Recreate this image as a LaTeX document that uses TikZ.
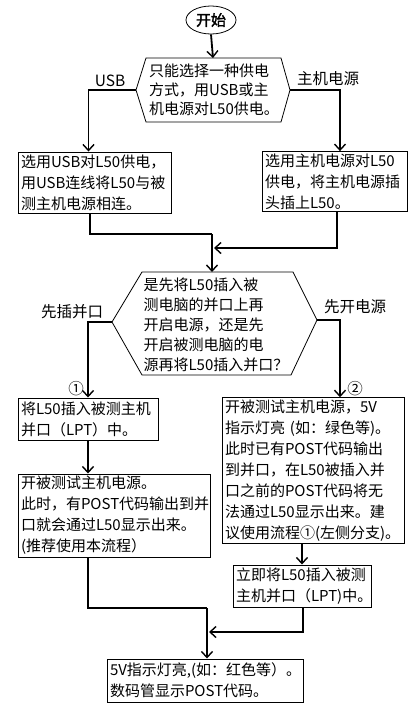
\documentclass[tikz,border=0pt]{standalone}
\usepackage{fontspec}
\setmainfont{Noto Sans CJK SC}
\newfontfamily\cjkbold[FakeBold=2]{Noto Sans CJK SC}
\usetikzlibrary{arrows.meta,shapes.geometric,calc}
\begin{document}
\begin{tikzpicture}[x=1pt,y=-1pt,
  txt/.style={font=\fontsize{15}{21}\selectfont},
  box/.style={draw,line width=1pt,txt,align=left,inner xsep=3pt,inner ysep=2pt,anchor=center},
  hexline/.style={line width=0.8pt},
  conn/.style={line width=1.8pt},
  arr/.style={conn,-{Straight Barb[length=6pt,width=11pt,line width=1.4pt]}},
  lab/.style={font=\fontsize{15.5}{17}\selectfont,inner sep=0pt}]
\useasboundingbox (0,0) rectangle (420,720);

% start
\node[ellipse,draw,line width=0.8pt,minimum width=50pt,minimum height=28pt,inner sep=0pt,font=\cjkbold\fontsize{15}{16}\selectfont] (start) at (211,20) {开始};

% hexagon 1
\coordinate (h1l) at (136,90);
\coordinate (h1r) at (290,90);
\coordinate (h1t) at (213,58);
\draw[hexline] (h1l) -- (146,58) -- (281,58) -- (h1r) -- (281,122) -- (146,122) -- cycle;
\node[txt,align=left,inner sep=0pt,font=\fontsize{15}{19}\selectfont] (h1) at (214,90) {只能选择一种供电\\方式，用USB或主\\机电源对L50供电。};

\draw[arr] (start.south) -- (h1t);

% boxes row 1
\node[box,minimum width=153pt,minimum height=61pt,text width=147pt] (b1) at (94.5,182.5) {选用USB对L50供电，\\用USB连线将L50与被\\测主机电源相连。};
\node[box,minimum width=145pt,minimum height=59pt,text width=139pt] (b2) at (334.5,181.5) {选用主机电源对L50\\供电，将主机电源插\\头插上L50。};

\node[lab] (lusb) at (110,81) {USB};
\node[lab] (lzj) at (328,79) {主机电源};
\draw[arr] (h1l) -| ([xshift=-6pt]b1.north);
\draw[arr] (h1r) -| ([xshift=5.5pt]b2.north);

% hexagon 2
\coordinate (h2l) at (112,322);
\coordinate (h2r) at (317,320);
\coordinate (h2t) at (212,272);
\draw[hexline] (h2l) -- (142,272) -- (293,272) -- (h2r) -- (291,375) -- (142,375) -- cycle;
\node[txt,align=left,inner sep=0pt,font=\fontsize{15}{20}\selectfont] (h2) at (216,325) {是先将L50插入被\\测电脑的并口上再\\开启电源，还是先\\开启被测电脑的电\\源再将L50插入并口？};

\coordinate (m1) at (212,234);
\coordinate (m2) at (214,248);
\draw[conn] ([xshift=-4.5pt]b1.south) |- (m1);
\draw[arr] (m1) -- (h2t);
\draw[arr] ([xshift=2.5pt]b2.south) |- (m2);

% labels branch 2
\node[lab] (lxc) at (72,312) {先插并口};
\node[lab] (lxk) at (355,307) {先开电源};
\node[lab] (n1) at (76,389) {①};
\node[lab] (n2) at (355,389) {②};

% boxes
\node[box,minimum width=140pt,minimum height=42pt,text width=134pt] (b3) at (88,419) {将L50插入被测主机\\并口（LPT）中。};
\node[box,minimum width=182pt,minimum height=145pt,text width=176pt] (b4) at (313,470.5) {开被测试主机电源，5V\\指示灯亮 (如：绿色等)。\\此时已有POST代码输出\\到并口，在L50被插入并\\口之前的POST代码将无\\法通过L50显示出来。建\\议使用流程①(左侧分支)。};
\node[box,minimum width=192pt,minimum height=83pt,text width=186pt] (b5) at (114,515.5) {开被测试主机电源。\\此时，有POST代码输出到并\\口就会通过L50显示出来。\\(推荐使用本流程）};
\node[box,minimum width=138pt,minimum height=42pt,text width=132pt] (b6) at (302,586) {立即将L50插入被测\\主机并口（LPT)中。};
\node[box,minimum width=196pt,minimum height=43pt,text width=190pt] (b7) at (205,680.5) {5V指示灯亮,(如：红色等）。\\数码管显示POST代码。};

\draw[arr] (h2l) -| (b3.north);
\draw[arr] (h2r) -| ([xshift=27pt]b4.north);
\draw[arr] (b3.south) -- (b3.south |- b5.north);
\draw[arr] (b6.north |- b4.south) -- (b6.north);

\coordinate (m3) at (207,608);
\coordinate (m4) at (209,632);
\draw[conn] (b3.south |- b5.south) |- (m3);
\draw[arr] (m3) -- (m3 |- b7.north);
\draw[arr] ([xshift=1pt]b6.south) |- (m4);
\end{tikzpicture}
\end{document}
